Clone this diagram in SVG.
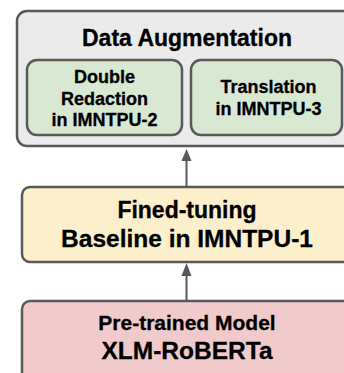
<svg xmlns="http://www.w3.org/2000/svg" width="344" height="373" viewBox="0 0 344 373">
<style>
.box{stroke:#595959;stroke-width:2.5}
.t{font-family:"Liberation Sans",Arial,sans-serif;font-weight:bold;fill:#000;stroke:#000;stroke-width:0.3;text-anchor:middle}
.c{stroke:#595959;stroke-width:2;fill:none}
.h{fill:#595959}
</style>
<rect width="344" height="373" fill="#ffffff"/>
<g id="data-augmentation">
<rect class="box" x="17" y="11" width="340" height="135" rx="10" fill="#ebebeb"/>
<text class="t" x="187" y="46" font-size="23">Data Augmentation</text>
</g>
<g id="double-redaction">
<rect class="box" x="27" y="60" width="155" height="75" rx="10" fill="#d9e8d3"/>
<text class="t" x="104.5" font-size="18"><tspan x="104.5" y="83">Double</tspan><tspan x="104.5" y="104.5">Redaction</tspan><tspan x="104.5" y="126">in IMNTPU-2</tspan></text>
</g>
<g id="translation">
<rect class="box" x="191" y="60" width="151" height="75" rx="10" fill="#d9e8d3"/>
<text class="t" x="268.5" font-size="18"><tspan x="268.5" y="93">Translation</tspan><tspan x="268.5" y="114.5">in IMNTPU-3</tspan></text>
</g>
<g id="fine-tuning">
<rect class="box" x="22" y="187" width="330" height="75" rx="8" fill="#fcf0cc"/>
<text class="t" x="187" font-size="23"><tspan x="187" y="217.5">Fined-tuning</tspan><tspan x="187" y="246.5" font-size="24.5">Baseline in IMNTPU-1</tspan></text>
</g>
<g id="pretrained">
<rect class="box" x="22" y="301" width="330" height="90" rx="8" fill="#f1cbcb"/>
<text class="t" x="187" font-size="21"><tspan x="187" y="329.5">Pre-trained Model</tspan><tspan x="187" y="358.5" font-size="24.5">XLM-RoBERTa</tspan></text>
</g>
<g id="connectors">
<line class="c" x1="186.5" y1="187" x2="186.5" y2="159"/>
<polygon class="h" points="186.5,149 181.5,161 191.5,161"/>
<line class="c" x1="186.5" y1="301" x2="186.5" y2="274"/>
<polygon class="h" points="186.5,263 181.5,276 191.5,276"/>
</g>
</svg>
